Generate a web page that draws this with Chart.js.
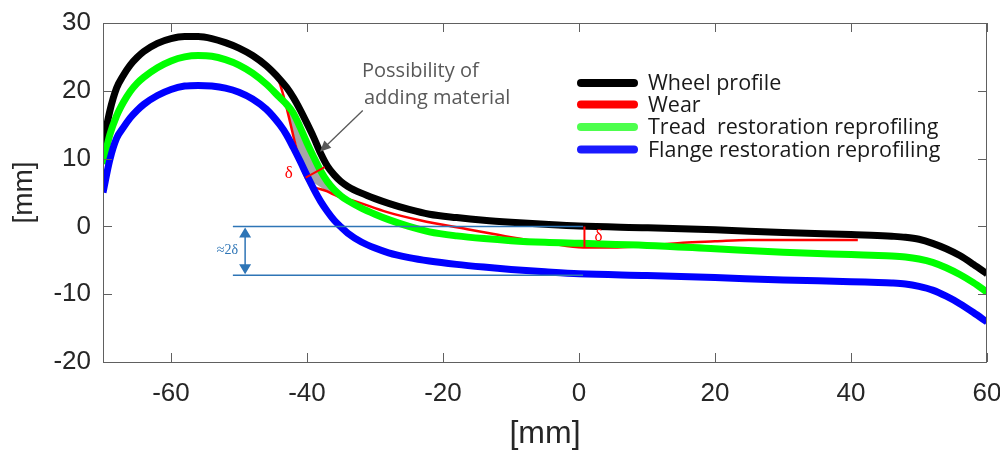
<!DOCTYPE html>
<html lang="en">
<head>
<meta charset="UTF-8">
<title>Wheel profile reprofiling</title>
<script src="https://cdn.jsdelivr.net/npm/chart.js"></script>
<style>
  html, body { margin: 0; padding: 0; background: #fff; }
</style>
</head>
<body>
<canvas id="profileChart" width="1000" height="450"></canvas>
<script>
  // profile curves (x, y in mm)
  const profileX = [-70, -69, -68, -67, -66, -65, -64, -62, -60, -58, -56, -54, -52, -50, -48, -46, -44, -43, -42, -41, -40, -39, -38, -37, -36, -35, -34, -32, -30, -28, -25, -22, -18, -14, -10, -5, 0, 10, 20, 30, 40, 43, 46, 48, 50, 52, 54, 56, 58, 60];
  const wheelY = [12.0, 17.0, 20.4, 22.3, 23.8, 24.9, 25.8, 27.0, 27.7, 28.0, 28.0, 27.7, 27.1, 26.3, 25.2, 23.7, 21.7, 20.5, 19.0, 17.2, 15.2, 13.1, 10.8, 8.9, 7.6, 6.6, 5.9, 4.9, 4.1, 3.4, 2.5, 1.8, 1.3, 0.9, 0.6, 0.3, 0.05, -0.2, -0.5, -0.9, -1.2, -1.3, -1.45, -1.6, -1.9, -2.5, -3.3, -4.3, -5.6, -7.0];
  const treadY = [9.2, 13.5, 16.3, 18.3, 19.9, 21.1, 22.0, 23.4, 24.4, 25.0, 25.2, 25.1, 24.6, 23.8, 22.6, 21.0, 19.0, 18.0, 16.7, 14.6, 12.3, 10.2, 8.2, 6.6, 5.4, 4.5, 3.8, 2.7, 1.8, 1.0, 0.0, -0.8, -1.4, -1.8, -2.1, -2.35, -2.5, -2.8, -3.3, -3.8, -4.15, -4.25, -4.35, -4.5, -4.8, -5.3, -6.1, -7.1, -8.3, -9.7];
  const flangeY = [5.0, 9.8, 13.0, 14.6, 16.0, 17.1, 18.0, 19.3, 20.2, 20.7, 20.8, 20.7, 20.4, 19.8, 18.8, 17.3, 15.0, 13.5, 11.6, 9.6, 7.5, 5.5, 3.7, 2.2, 0.9, -0.1, -1.0, -2.3, -3.2, -3.9, -4.6, -5.1, -5.6, -6.0, -6.35, -6.7, -7.0, -7.25, -7.55, -7.9, -8.15, -8.25, -8.35, -8.5, -8.85, -9.4, -10.3, -11.4, -12.7, -14.1];

  const wearX = [-46.9, -44.3, -40.2, -37.1, -35.4, -33.2, -28.2, -23.4, -16, -10, -4.3, 0.6, 5, 8, 12, 15.3, 20, 25, 41];
  const wearY = [24.3, 21.9, 7.2, 5.2, 4.4, 3.8, 2.1, 0.9, -0.5, -1.6, -2.5, -3.1, -3.1, -3.0, -2.7, -2.4, -2.2, -2.0, -2.0];

  const seriesNames = ['Wheel profile', 'Wear', 'Tread  restoration reprofiling', 'Flange restoration reprofiling'];
  const seriesColors = ['#000000', '#ff0000', '#00ff00', '#0000ff'];
  const legendColors = ['#000000', '#ff0000', '#4dff4d', '#1a1aff'];

  const xTicks = [-60, -40, -20, 0, 20, 40, 60];
  const yTicks = [-20, -10, 0, 10, 20, 30];

  // annotations (mm)
  const addAreaX = [-43.2, -40.2, -37.1, -35.6, -36, -37, -38, -39, -40, -41, -42];
  const addAreaY = [18.0, 7.2, 5.2, 4.5, 5.4, 6.6, 8.2, 10.2, 12.3, 14.6, 16.7];
  const deltaFlankX = [-40.2, -37.4];
  const deltaFlankY = [7.2, 8.75];
  const deltaTreadX = [0.8, 0.8];
  const deltaTreadY = [0, -3.1];
  const bracketX = [-50.9, 0.6];
  const bracketY = [0, -7.2];
  const bracketArrowX = -49.1;
  const pointerX = [-31.8, -38.1];
  const pointerY = [17.1, 11.0];

  function pts(xs, ys) {
    return xs.map((x, i) => ({ x: x, y: ys[i] }));
  }

  const ctx = document.getElementById('profileChart').getContext('2d');

  const frame = {
    id: 'frame',
    beforeDatasetsDraw(chart) {
      const c = chart.ctx, sx = chart.scales.x, sy = chart.scales.y;
      c.save();
      c.fillStyle = '#a6a6a6';
      c.beginPath();
      addAreaX.forEach((x, i) => {
        const px = sx.getPixelForValue(x), py = sy.getPixelForValue(addAreaY[i]);
        if (i === 0) c.moveTo(px, py); else c.lineTo(px, py);
      });
      c.closePath();
      c.fill();
      c.restore();
    },
    afterDraw(chart) {
      const c = chart.ctx, a = chart.chartArea, sx = chart.scales.x, sy = chart.scales.y;
      c.save();
      // box and inward ticks
      c.strokeStyle = '#606060';
      c.lineWidth = 1;
      c.strokeRect(a.left + 0.5, a.top + 0.5, a.right - a.left - 1, a.bottom - a.top);
      c.beginPath();
      xTicks.forEach(v => {
        const px = Math.round(sx.getPixelForValue(v)) + 0.5;
        c.moveTo(px, a.bottom); c.lineTo(px, a.bottom - 9);
        c.moveTo(px, a.top); c.lineTo(px, a.top + 9);
      });
      yTicks.forEach(v => {
        const py = Math.round(sy.getPixelForValue(v)) + 0.5;
        c.moveTo(a.left, py); c.lineTo(a.left + 9, py);
        c.moveTo(a.right, py); c.lineTo(a.right - 9, py);
      });
      c.stroke();

      // blue 2δ bracket
      const bx0 = sx.getPixelForValue(bracketX[0]), bx1 = sx.getPixelForValue(bracketX[1]);
      const by0 = sy.getPixelForValue(bracketY[0]), by1 = sy.getPixelForValue(bracketY[1]);
      const ax = sx.getPixelForValue(bracketArrowX);
      c.strokeStyle = '#2e75b6';
      c.fillStyle = '#2e75b6';
      c.lineWidth = 1.5;
      c.beginPath();
      c.moveTo(bx0, by0); c.lineTo(bx1, by0);
      c.moveTo(bx0, by1); c.lineTo(bx1, by1);
      c.moveTo(ax, by0 + 8); c.lineTo(ax, by1 - 8);
      c.stroke();
      c.beginPath();
      c.moveTo(ax, by0 + 1); c.lineTo(ax - 6, by0 + 11); c.lineTo(ax + 6, by0 + 11); c.closePath();
      c.moveTo(ax, by1 - 1); c.lineTo(ax - 6, by1 - 11); c.lineTo(ax + 6, by1 - 11); c.closePath();
      c.fill();
      c.font = '14px "Liberation Serif"';
      c.textAlign = 'right';
      c.textBaseline = 'middle';
      c.fillText('\u22482\u03b4', ax - 7, (by0 + by1) / 2);

      // red δ marks
      c.strokeStyle = '#ff0000';
      c.fillStyle = '#ff0000';
      c.lineWidth = 2;
      c.beginPath();
      c.moveTo(sx.getPixelForValue(deltaFlankX[0]), sy.getPixelForValue(deltaFlankY[0]));
      c.lineTo(sx.getPixelForValue(deltaFlankX[1]), sy.getPixelForValue(deltaFlankY[1]));
      c.moveTo(sx.getPixelForValue(deltaTreadX[0]), sy.getPixelForValue(deltaTreadY[0]));
      c.lineTo(sx.getPixelForValue(deltaTreadX[1]), sy.getPixelForValue(deltaTreadY[1]));
      c.stroke();
      c.font = '17px "Liberation Serif"';
      c.textAlign = 'center';
      c.fillText('\u03b4', sx.getPixelForValue(deltaFlankX[0]) - 17, sy.getPixelForValue(deltaFlankY[0]) - 4);
      c.fillText('\u03b4', sx.getPixelForValue(deltaTreadX[0]) + 14, (sy.getPixelForValue(deltaTreadY[0]) + sy.getPixelForValue(deltaTreadY[1])) / 2);

      // gray pointer
      const p0x = sx.getPixelForValue(pointerX[0]), p0y = sy.getPixelForValue(pointerY[0]);
      const p1x = sx.getPixelForValue(pointerX[1]), p1y = sy.getPixelForValue(pointerY[1]);
      const ang = Math.atan2(p1y - p0y, p1x - p0x);
      c.strokeStyle = '#595959';
      c.fillStyle = '#595959';
      c.lineWidth = 1.3;
      c.beginPath();
      c.moveTo(p0x, p0y);
      c.lineTo(p1x - 8 * Math.cos(ang), p1y - 8 * Math.sin(ang));
      c.stroke();
      c.beginPath();
      c.moveTo(p1x, p1y);
      c.lineTo(p1x - 11 * Math.cos(ang) + 5 * Math.sin(ang), p1y - 11 * Math.sin(ang) - 5 * Math.cos(ang));
      c.lineTo(p1x - 11 * Math.cos(ang) - 5 * Math.sin(ang), p1y - 11 * Math.sin(ang) + 5 * Math.cos(ang));
      c.closePath();
      c.fill();
      c.font = '20px "Open Sans"';
      c.textAlign = 'left';
      c.fillText('Possibility of', 362, 71);
      c.fillText('adding material', 364, 98);

      // legend
      const rows = [83, 104.5, 127, 149.5];
      c.lineCap = 'round';
      c.lineWidth = 8;
      c.font = '21.5px "Open Sans"';
      seriesNames.forEach((name, i) => {
        c.strokeStyle = legendColors[i];
        c.beginPath();
        c.moveTo(581, rows[i]); c.lineTo(634, rows[i]);
        c.stroke();
        c.fillStyle = '#1a1a1a';
        c.fillText(name, 648, rows[i] + 1);
      });
      c.restore();
    }
  };

  const curveStyle = (i) => ({
    label: seriesNames[i],
    borderColor: seriesColors[i],
    backgroundColor: seriesColors[i],
    showLine: true,
    pointRadius: 0,
    cubicInterpolationMode: 'monotone',
    fill: false
  });

  const chart = new Chart(ctx, {
    type: 'scatter',
    data: {
      datasets: [
        Object.assign(curveStyle(3), { data: pts(profileX, flangeY), borderWidth: 7 }),
        Object.assign(curveStyle(2), { data: pts(profileX, treadY), borderWidth: 7 }),
        Object.assign(curveStyle(0), { data: pts(profileX, wheelY), borderWidth: 7 }),
        Object.assign(curveStyle(1), { data: pts(wearX, wearY), borderWidth: 2.5 })
      ]
    },
    options: {
      responsive: false,
      animation: false,
      layout: { padding: { left: 0, top: 23, right: 13, bottom: 0 } },
      plugins: { legend: { display: false }, tooltip: { enabled: false } },
      scales: {
        x: {
          type: 'linear',
          min: -70, max: 60,
          grid: { display: false, drawTicks: false },
          border: { display: false },
          ticks: { font: { family: 'Liberation Sans', size: 26 }, color: '#262626', padding: 16, maxRotation: 0 },
          afterBuildTicks: s => { s.ticks = xTicks.map(v => ({ value: v })); },
          afterFit: s => { s.height = 88; s.paddingLeft = 0; s.paddingRight = 0; },
          title: { display: true, text: '[mm]', color: '#262626', font: { family: 'Liberation Sans', size: 32, lineHeight: 1 }, padding: 0 }
        },
        y: {
          type: 'linear',
          min: -20, max: 30,
          grid: { display: false, drawTicks: false },
          border: { display: false },
          ticks: { font: { family: 'Liberation Sans', size: 26 }, color: '#262626', padding: 12 },
          afterBuildTicks: s => { s.ticks = yTicks.map(v => ({ value: v })); },
          afterFit: s => { s.width = 103; s.paddingTop = 0; s.paddingBottom = 0; },
          title: { display: true, text: '[mm]', color: '#262626', font: { family: 'Liberation Sans', size: 28, lineHeight: 1 }, padding: { top: 10, bottom: 0 } }
        }
      }
    },
    plugins: [frame]
  });
</script>
</body>
</html>
